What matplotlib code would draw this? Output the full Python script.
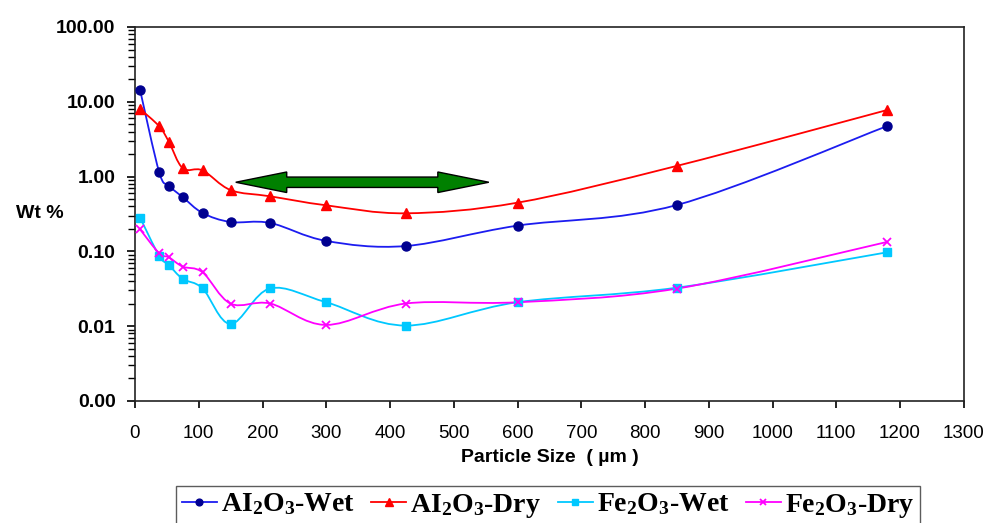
import numpy as np
import matplotlib
matplotlib.use("Agg")
import matplotlib.pyplot as plt
from matplotlib.path import Path
from matplotlib.patches import PathPatch, Polygon
from matplotlib.lines import Line2D
from matplotlib.ticker import FixedLocator, LogLocator, FuncFormatter

# sieve sizes (um)
sizes = [8, 38, 53, 75, 106, 150, 212, 300, 425, 600, 850, 1180]

al_wet = [14.3, 1.14, 0.757, 0.53, 0.326, 0.247, 0.24, 0.138, 0.118, 0.221, 0.417, 4.74]
al_dry = [8.0, 4.7, 2.93, 1.29, 1.21, 0.66, 0.545, 0.413, 0.323, 0.448, 1.39, 7.77]
fe_wet = [0.282, 0.087, 0.0658, 0.0428, 0.032, 0.0107, 0.032, 0.0209, 0.0102, 0.0209, 0.0327, 0.0973]
fe_dry = [0.197, 0.094, 0.0834, 0.0625, 0.0525, 0.020, 0.0201, 0.0104, 0.0201, 0.0209, 0.0318, 0.134]

labels = ["AI$_2$O$_3$-Wet", "AI$_2$O$_3$-Dry", "Fe$_2$O$_3$-Wet", "Fe$_2$O$_3$-Dry"]
x_ticks = list(range(0, 1301, 100))
y_ticks = [0.001, 0.01, 0.1, 1, 10, 100]

# arrow span (um) and height (wt %)
arrow_x = (158, 555)
arrow_y = 0.84

plt.rcParams["mathtext.fontset"] = "custom"
plt.rcParams["mathtext.rm"] = "Liberation Serif:bold"
plt.rcParams["mathtext.it"] = "Liberation Serif:bold"
plt.rcParams["mathtext.bf"] = "Liberation Serif:bold"


def smooth_path(x, y):
    # excel-like smoothed line: catmull-rom bezier in (x, log y)
    pts = np.column_stack([np.asarray(x, float), np.log10(y)])
    p = np.vstack([pts[0], pts, pts[-1]])
    verts = [pts[0]]
    codes = [Path.MOVETO]
    for i in range(1, len(p) - 2):
        c1 = p[i] + (p[i + 1] - p[i - 1]) / 6
        c2 = p[i + 1] - (p[i + 2] - p[i]) / 6
        verts += [c1, c2, p[i + 1]]
        codes += [Path.CURVE4] * 3
    verts = np.array(verts)
    verts[:, 1] = 10 ** verts[:, 1]
    return Path(verts, codes)


fig = plt.figure(figsize=(9.89, 5.23), dpi=100)
ax = fig.add_axes([0.1365, 0.2333, 0.838, 0.7151])

series = [
    (al_wet, "#1c1cf0", "o", "#000090", 6.5, 1.0),
    (al_dry, "#ff0000", "^", "#ff0000", 7.5, 1.0),
    (fe_wet, "#00c8ff", "s", "#00c8ff", 6.0, 1.0),
    (fe_dry, "#ff00ff", "x", "#ff00ff", 6.0, 1.3),
]

handles = []
for vals, lc, mk, mc, ms, mew in series:
    ax.add_patch(PathPatch(smooth_path(sizes, vals), fill=False, edgecolor=lc, lw=1.3, zorder=2))
    ax.plot(sizes, vals, ls="none", marker=mk, ms=ms, mfc=mc, mec=mc, mew=mew, zorder=3)
    handles.append(Line2D([], [], color=lc, lw=1.3, marker=mk, ms=ms * 0.75, mfc=mc, mec=mc, mew=mew))

ax.set_yscale("log")
ax.set_xlim(0, 1300)
ax.set_ylim(0.001, 100)
ax.xaxis.set_major_locator(FixedLocator(x_ticks))
ax.yaxis.set_major_locator(FixedLocator(y_ticks))
ax.yaxis.set_minor_locator(LogLocator(base=10, subs=np.arange(2, 10)))
ax.yaxis.set_major_formatter(FuncFormatter(lambda v, p: f"{v:.2f}"))
ax.yaxis.set_minor_formatter(FuncFormatter(lambda v, p: ""))

for s in ax.spines.values():
    s.set_color("#222222")
    s.set_linewidth(1.2)

ax.tick_params(axis="y", which="major", direction="out", length=6, width=1.2, pad=8)
ax.tick_params(axis="y", which="minor", direction="out", length=5, width=1.0)
ax.tick_params(axis="x", which="major", direction="out", length=5, width=1.2, pad=12)
ax.tick_params(right=False, top=False)

for t in ax.get_yticklabels():
    t.set_fontfamily("Liberation Sans")
    t.set_fontweight("bold")
    t.set_fontsize(14)
for t in ax.get_xticklabels():
    t.set_fontfamily("Liberation Sans")
    t.set_fontsize(13.5)

ax.set_xlabel("Particle Size  ( \u00b5m )", fontfamily="Liberation Sans", fontweight="bold",
              fontsize=14, labelpad=5)
fig.text(40 / 989, 1 - 214 / 523, "Wt %", fontfamily="Liberation Sans", fontweight="bold",
         fontsize=14, ha="center", va="center")

# green double-headed arrow (x in data, y in axes fraction)
yc = (np.log10(arrow_y) + 3) / 5
bh, hh = 0.0139, 0.0275
hl = 80
x0, x1 = arrow_x
arrow = Polygon([
    (x0, yc), (x0 + hl, yc + hh), (x0 + hl, yc + bh), (x1 - hl, yc + bh), (x1 - hl, yc + hh),
    (x1, yc), (x1 - hl, yc - hh), (x1 - hl, yc - bh), (x0 + hl, yc - bh), (x0 + hl, yc - hh),
], closed=True, facecolor="#008000", edgecolor="black", lw=1.0,
    transform=ax.get_xaxis_transform(), zorder=4)
ax.add_patch(arrow)

leg = fig.legend(handles, labels, loc="upper center", bbox_to_anchor=(0.554, 1 - 486 / 523),
                 ncol=4, frameon=True, fancybox=False, handlelength=1.25, handletextpad=0.15,
                 columnspacing=0.6, borderpad=0.2, borderaxespad=0,
                 prop={"family": "Liberation Serif", "weight": "bold", "size": 20})
leg.get_frame().set_edgecolor("#333333")
leg.get_frame().set_linewidth(1.0)

fig.savefig("out.png", dpi=100)
